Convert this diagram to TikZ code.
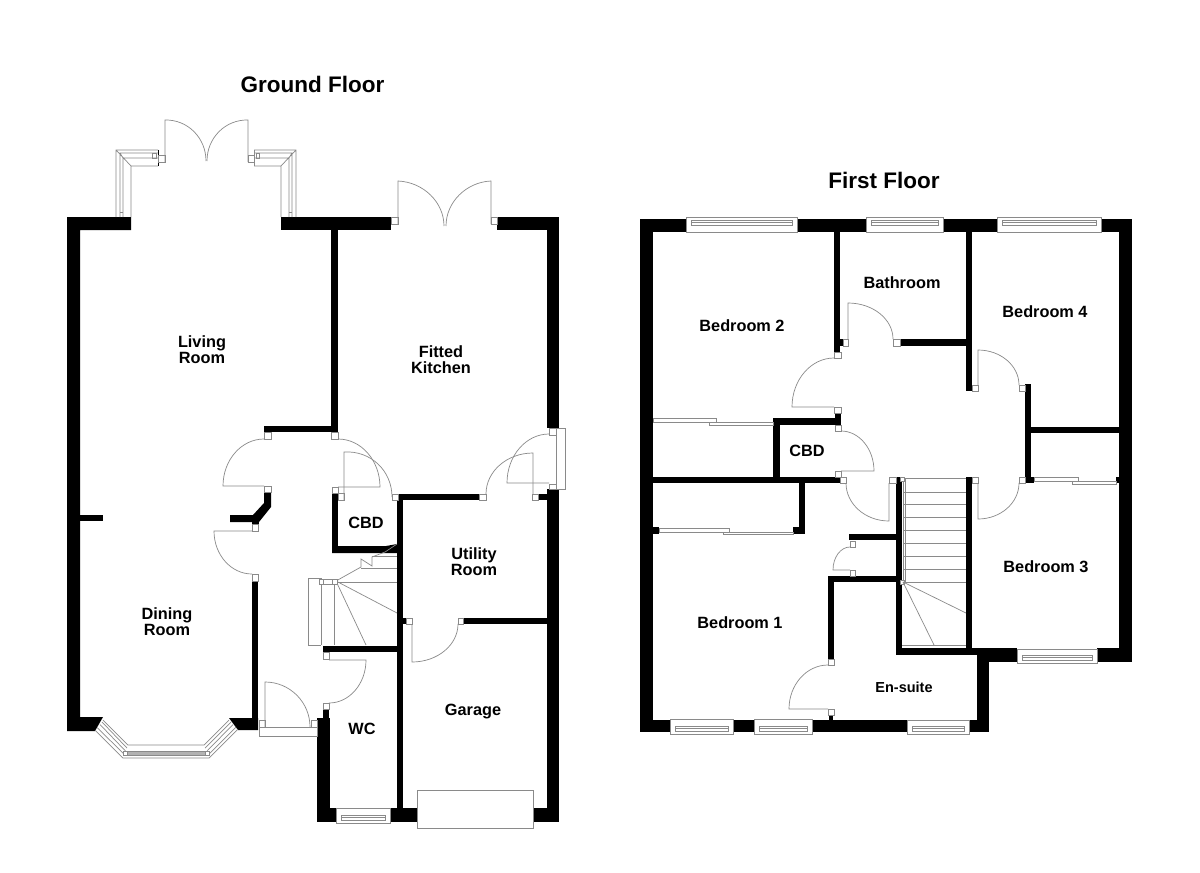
\documentclass[tikz,border=0pt]{standalone}
\usepackage{fontspec}
\setmainfont{Liberation Sans}
\tikzset{
  ln/.style={draw=black!46,line width=0.7pt},
  room/.style={inner sep=0pt,align=center,font=\fontsize{16.3}{16.2}\selectfont\bfseries},
  title/.style={inner sep=0pt,font=\fontsize{22.5}{24}\selectfont\bfseries}
}
% black wall
\newcommand{\wl}[4]{\fill[black] (#1,#2) rectangle (#3,#4);}
% door jamb
\newcommand{\jb}[4]{\filldraw[ln,fill=white] (#1,#2) rectangle (#3,#4);}
% door: hinge, leaf tip, arc end
\newcommand{\door}[6]{%
  \pgfmathsetmacro\pa{#3+0.5523*(#5-#1)}\pgfmathsetmacro\pb{#4+0.5523*(#6-#2)}%
  \pgfmathsetmacro\pc{#5+0.5523*(#3-#1)}\pgfmathsetmacro\pd{#6+0.5523*(#4-#2)}%
  \draw[ln] (#1,#2) -- (#3,#4) .. controls (\pa,\pb) and (\pc,\pd) .. (#5,#6);}
% horizontal window: x1,x2,ytop,ybottom,innertop
\newcommand{\win}[5]{%
  \filldraw[ln,fill=white] (#1,#3) rectangle (#2,#4);
  \pgfmathsetmacro\qa{#1+5}\pgfmathsetmacro\qb{#2-5}\pgfmathsetmacro\qc{#5+5}\pgfmathsetmacro\qe{#5+2.5}%
  \draw[ln] (\qa,#5) rectangle (\qb,\qc) (\qa,\qe) -- (\qb,\qe);}
% sliding wardrobe door
\newcommand{\sld}[4]{\filldraw[ln,fill=white] (#1,#2) rectangle (#3,#4);}
\begin{document}
\begin{tikzpicture}[x=1pt,y=-1pt]
\useasboundingbox (0,0) rectangle (1200,873);
\fill[white] (0,0) rectangle (1200,873);
% ================= GROUND FLOOR =================
\fill[black] (67,217) -- (131,217) -- (131,230) -- (80,230) -- (80,717) -- (103,717) -- (95,731) -- (67,731) -- cycle;
\wl{80}{515}{103}{521}
\wl{281}{217}{391}{230}
\wl{331}{230}{338}{432}
\wl{264}{426}{338}{432}
\wl{497}{217}{559}{230}
\wl{547}{230}{559}{428}
\wl{547}{489}{559}{822}
\fill[black] (264,492) -- (271,492) -- (271,507) -- (259,522) -- (230,522) -- (230,515) -- (253,515) -- (264,503) -- cycle;
\wl{252}{515}{259}{524}
\wl{252}{581}{258}{730}
\fill[black] (229,718) -- (252,718) -- (258,718) -- (258,730) -- (238,730) -- cycle;
\wl{332}{493}{338}{553}
\fill[black] (332,546) -- (386,546) -- (397,544) -- (397,553) -- (332,553) -- cycle;
\wl{397}{494}{403}{808}
\wl{397}{494}{479}{500}
\wl{538}{494}{547}{500}
\wl{463}{618}{547}{624}
\wl{403}{618}{406}{624}
\wl{323}{646}{397}{652}
\wl{323}{709}{329}{718}
\wl{317}{718}{330}{822}
\wl{317}{808}{337}{822}
\wl{390}{808}{417}{822}
\wl{533}{808}{559}{822}
% bay window
\draw[ln] (95,730) -- (123,758) -- (209,758) -- (238,729);
\draw[ln] (103,720) -- (128,745) -- (204,745) -- (229,720);
\filldraw[draw=black!46,line width=0.6pt,fill=black!30] (125,751) rectangle (207,755);
\draw[ln] (97,727.5) -- (124,754) (100,724.5) -- (125.5,751) (102,722) -- (127,748);
\draw[ln] (236,727) -- (208,755) (233,724.5) -- (207,751) (231,722) -- (205,748);
\jb{123.5}{751}{127}{755}\jb{205.5}{751}{209}{755}
% top corner windows
\draw[ln] (116,217) -- (116,150) -- (158,150) (131,217) -- (131,166) -- (158,166) (116,150) -- (131,166)
  (120,217) -- (120,153) -- (158,153) (123,217) -- (123,158) -- (158,158) (120,153) -- (123,158);
\draw[ln] (296,217) -- (296,150) -- (254,150) (281,217) -- (281,166) -- (254,166) (296,150) -- (281,166)
  (292,217) -- (292,153) -- (254,153) (289,217) -- (289,158) -- (254,158) (292,153) -- (289,158);
\draw[ln] (152,153) rectangle (156,158) (256,153) rectangle (259,158) (120,212) -- (123,212) (289,212) -- (292,212);
\draw[black,line width=0.9pt] (158,150) -- (158,166);
\draw[ln] (254,150) -- (254,166);
\jb{158}{155}{165}{162}\jb{248}{155}{254}{162}
\door{165}{162}{165}{120}{206}{161}
\door{248}{162}{248}{120}{207}{161}
% kitchen doors
\jb{391}{217}{398}{224}\jb{491}{217}{497}{224}
\door{398}{224}{398}{181}{444}{226}
\door{491}{224}{491}{181}{446}{226}
% inner doors
\jb{264}{432}{271}{439}\jb{331}{432}{338}{439}
\jb{264}{486}{271}{492}
\door{264}{486}{223}{486}{264}{439}
\jb{252}{524}{258}{531}\jb{252}{574}{258}{581}
\door{252}{531}{214}{531}{252}{574}
\jb{332}{487}{338}{493}\jb{338}{493}{344}{500}\jb{392}{494}{398}{500}
\door{338}{487}{380}{487}{338}{439}
\door{344}{500}{344}{452}{392}{497}
% side door and utility door
\filldraw[ln,fill=white] (556,428) rectangle (565,489);
\jb{549}{428}{556}{435}\jb{549}{484}{556}{489}
\draw[ln] (556,435) -- (556,484);
\door{549}{483}{507}{483}{549}{434}
\jb{479}{494}{486}{500}\jb{532}{494}{538}{500}
\door{533}{494}{533}{453}{486}{494}
\jb{406}{618}{412}{624}\jb{458}{618}{463}{624}
\door{412}{624}{412}{662}{458}{624}
% WC and entrance
\jb{323}{652}{329}{659}\jb{323}{703}{329}{709}
\door{329}{660}{366}{660}{329}{703}
\filldraw[ln,fill=white] (259,727) rectangle (317,736);
\jb{259}{720}{265}{727}\jb{311}{720}{317}{727}
\door{265}{727}{265}{682}{310}{727}
% stairs
\draw[ln] (397,544) -- (385,552) -- (372,557) -- (372,566) -- (361,559) -- (361,567) -- (336,581);
\draw[ln] (372,556) -- (397,556) (361,568) -- (397,568) (337,582) -- (397,582);
\draw[ln] (336,581) -- (397,613) (336,581) -- (366,645);
\draw[ln] (321,578) -- (308,578) -- (308,645) -- (321,645) (321,578) -- (321,645) (334,583) -- (334,645);
\draw[ln] (323,579) -- (332,579) (323,584) -- (332,584);
\jb{319}{579}{323}{584}\jb{332}{579}{337}{584}
% WC window and garage door
\win{336}{390}{808}{823}{815}
\filldraw[ln,fill=white] (417,790) rectangle (533,828);
% ================= FIRST FLOOR =================
\wl{640}{219}{653}{732}
\wl{640}{219}{1132}{232}
\wl{1119}{219}{1132}{662}
\wl{1097}{648}{1132}{662}
\wl{977}{648}{1017}{662}
\wl{977}{655}{989}{732}
\wl{640}{720}{989}{732}
\wl{896}{648}{977}{655}
\wl{896}{477}{902}{655}
\wl{966}{477}{972}{650}
\wl{828}{576}{896}{582}
\wl{828}{576}{834}{659}
\wl{829}{715}{833}{720}
\wl{849}{534}{896}{540}
\wl{653}{477}{840}{483}
\wl{799}{483}{805}{534}
\wl{793}{527}{805}{534}
\wl{653}{527}{659}{534}
\wl{773}{418}{780}{477}
\wl{773}{418}{841}{425}
\wl{835}{413}{841}{425}
\wl{834}{232}{840}{352}
\wl{840}{339}{843}{346}
\wl{900}{339}{966}{346}
\wl{966}{232}{972}{391}
\wl{1025}{384}{1031}{483}
\wl{1031}{427}{1119}{433}
\wl{1025}{477}{1034}{483}
\wl{1116}{477}{1119}{483}
% windows
\win{686}{797}{217}{232}{220}
\win{866}{943}{217}{232}{220}
\win{997}{1101}{217}{232}{220}
\win{1017}{1097}{649}{663}{655}
\win{670}{733}{719}{734}{726}
\win{754}{812}{719}{734}{726}
\win{907}{969}{720}{734}{726}
% sliding doors
\sld{653}{418}{716}{422}\sld{709}{422}{773}{425}
\sld{659}{528}{729}{532}\sld{723}{532}{793}{534}
\sld{1034}{477}{1078}{481}\sld{1072}{481}{1116}{484}
% doors
\jb{834}{352}{841}{358}\jb{834}{407}{841}{413}
\door{834}{407}{792}{407}{834}{358}
\jb{835}{425}{841}{431}\jb{835}{471}{841}{477}
\door{841}{471}{874}{471}{841}{431}
\jb{840}{477}{846}{483}\jb{889}{477}{896}{483}
\door{889}{483}{889}{521}{846}{483}
\jb{843}{339}{848}{346}\jb{893}{339}{900}{346}
\door{848}{339}{848}{303}{893}{339}
\jb{972}{385}{978}{391}\jb{1019}{385}{1025}{391}
\door{978}{385}{978}{350}{1019}{385}
\jb{972}{477}{978}{483}\jb{1019}{477}{1025}{483}
\door{978}{483}{978}{519}{1019}{483}
\jb{850}{541}{855}{547}\jb{850}{570}{855}{576}
\door{850}{570}{833}{570}{850}{547}
\jb{828}{659}{834}{665}\jb{828}{709}{834}{715}
\door{828}{709}{789}{709}{828}{665}
% stairs
\draw[ln] (904,478) -- (966,478);
\foreach \yy in {492,504,517,530,543,556,569,582} {\draw[ln] (904,\yy) -- (966,\yy);}
\draw[ln] (903,478) -- (903,582) (905,478) -- (905,582);
\jb{900.5}{477}{904}{481}\jb{900.5}{580}{904}{584}
\draw[ln] (903,582) -- (966,613) (903,582) -- (934,645);
\draw[ln] (902,645) -- (966,645);
% ================= LABELS =================
\node[title] (gf) at (312.5,84) {Ground Floor};
\node[title] (ff) at (884,180) {First Floor};
\node[room] (living) at (202,349.5) {Living\\Room};
\node[room] (kitchen) at (441,360) {Fitted\\Kitchen};
\node[room] (dining) at (167,622) {Dining\\Room};
\node[room] (utility) at (474,562) {Utility\\Room};
\node[room] (garage) at (473,711.5) {Garage};
\node[room] (wc) at (362,728.5) {WC};
\node[room] (cbdg) at (366,522.5) {CBD};
\node[room] (bed2) at (742,325.5) {Bedroom 2};
\node[room] (bath) at (902,282.5) {Bathroom};
\node[room] (bed4) at (1045,311.5) {Bedroom 4};
\node[room] (cbdf) at (807,450.5) {CBD};
\node[room] (bed1) at (740,622.5) {Bedroom 1};
\node[room] (bed3) at (1046,566.5) {Bedroom 3};
\node[room,font=\fontsize{14.5}{16}\selectfont\bfseries] (ens) at (904,687.5) {En-suite};
\end{tikzpicture}
\end{document}
